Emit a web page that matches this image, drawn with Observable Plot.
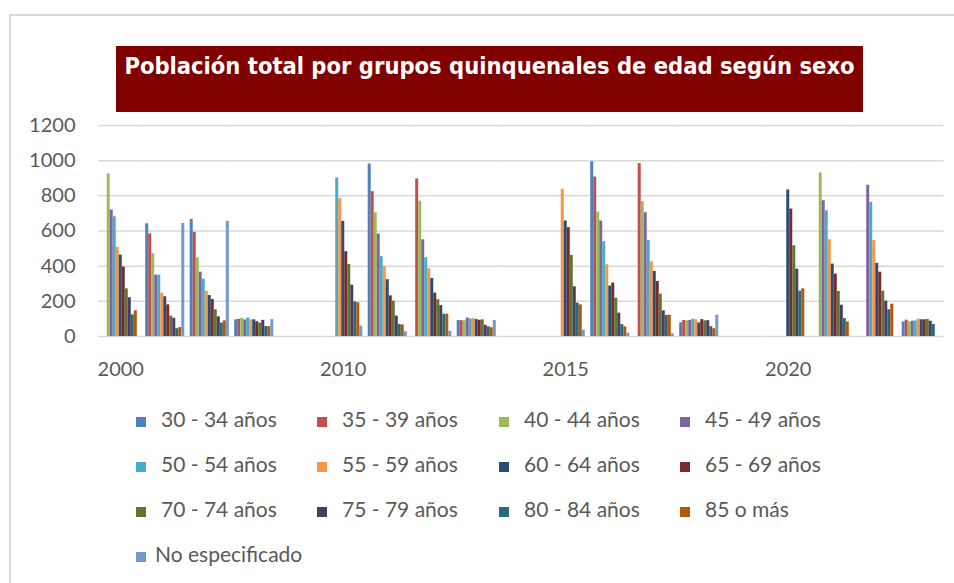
<!DOCTYPE html>
<html>
<head>
<meta charset="utf-8">
<script src="https://cdn.jsdelivr.net/npm/d3@7"></script>
<script src="https://cdn.jsdelivr.net/npm/@observablehq/plot@0.6"></script>
<style>
  html, body { margin: 0; padding: 0; background: #fff; width: 954px; height: 583px; overflow: hidden; }
  #wrap { position: relative; width: 954px; height: 583px; }
  #chart { position: absolute; left: 0; top: 109px; }
  #overlay { position: absolute; left: 0; top: 0; }
</style>
</head>
<body>
<div id="wrap">
  <div id="chart"></div>
  <svg id="overlay" width="954" height="583"></svg>
</div>
<script>
const title = "Población total por grupos quinquenales de edad según sexo";
const years = ["2000", "2010", "2015", "2020"];
const series = ["30 - 34 años", "35 - 39 años", "40 - 44 años", "45 - 49 años",
  "50 - 54 años", "55 - 59 años", "60 - 64 años", "65 - 69 años",
  "70 - 74 años", "75 - 79 años", "80 - 84 años", "85 o más", "No especificado"];
const colors = ["#4F81BD", "#C0504D", "#9BBB59", "#8064A2", "#4BACC6", "#F79646",
  "#2C4D75", "#772C2A", "#5F7530", "#4D3B62", "#276A7C", "#B65708", "#729ACA"];
const yTicks = [0, 200, 400, 600, 800, 1000, 1200];

// Four groups of bars per year: total, hombres, mujeres, índice de masculinidad
const total2000   = [null, null, 924, 719, 681, 507, 463, 395, 271, 220, 123, 146, null];
const hombres2000 = [641, 584, 471, 349, 349, 247, 226, 180, 116, 104, 44, 51, 643];
const mujeres2000 = [666, 592, 448, 366, 326, 258, 233, 211, 152, 112, 76, 89, 655];
const indice2000  = [95, 98, 103, 94, 105, 95, 95, 84, 76, 92, 57, 56, 96];

const total2010   = [null, null, null, null, 901, 784, 655, 482, 410, 292, 197, 192, 59];
const hombres2010 = [981, 824, 704, 583, 454, 398, 323, 231, 201, 116, 68, 66, 27];
const mujeres2010 = [null, 896, 770, 550, 448, 385, 330, 247, 209, 176, 127, 127, 30];
const indice2010  = [91, 90, 89, 105, 100, 102, 96, 92, 95, 64, 55, 50, 91];

const total2015   = [null, null, null, null, null, 837, 657, 619, 461, 283, 190, 180, 36];
const hombres2015 = [994, 907, 708, 657, 539, 408, 287, 304, 218, 133, 68, 55, 19];
const mujeres2015 = [null, 983, 767, 704, 546, 425, 370, 313, 241, 146, 120, 121, 15];
const indice2015  = [78, 91, 90, 91, 98, 95, 77, 96, 89, 90, 56, 44, 121];

const total2020   = [null, null, null, null, null, null, 833, 725, 516, 383, 258, 271, null];
const hombres2020 = [null, null, 930, 772, 715, 550, 412, 355, 256, 178, 102, 83, null];
const mujeres2020 = [null, null, null, 860, 763, 545, 416, 366, 258, 201, 152, 184, null];
const indice2020  = [83, 93, 83, 87, 89, 99, 95, 95, 97, 87, 68, null, null];

const groupsByYear = {
  "2000": [total2000, hombres2000, mujeres2000, indice2000],
  "2010": [total2010, hombres2010, mujeres2010, indice2010],
  "2015": [total2015, hombres2015, mujeres2015, indice2015],
  "2020": [total2020, hombres2020, mujeres2020, indice2020]
};

// category slots: 4 groups per year plus an empty slot between years
const cats = [];
const rows = [];
years.forEach((yr, yi) => {
  groupsByYear[yr].forEach((vals, gi) => {
    const key = yr + "|" + gi;
    cats.push(key);
    vals.forEach((v, si) => { if (v != null) rows.push({cat: key, serie: series[si], value: v}); });
  });
  if (yi < years.length - 1) cats.push(yr + "|blank");
});
// gridlines drawn in every category slot (keeps every facet non-empty)
const gridRows = cats.flatMap(c => yTicks.map(t => ({cat: c, tick: t})));

const W = 954;
const plot = Plot.plot({
  width: W,
  height: 16 + 211 + 50,
  marginTop: 16,
  marginBottom: 50,
  marginLeft: 98,
  marginRight: W - 98 - 845.5,
  style: {fontFamily: "Lato, sans-serif", fontSize: "20px", color: "#595959", background: "transparent", overflow: "visible"},
  fx: {domain: cats, paddingInner: 0, paddingOuter: 0, round: false, axis: "bottom", label: null, tickSize: 0, tickPadding: 25,
       tickFormat: k => k.endsWith("|0") ? k.split("|")[0] : ""},
  x: {domain: series, paddingInner: 0, paddingOuter: 0.9, round: false, axis: null},
  y: {domain: [0, 1200], ticks: yTicks, tickSize: 0, tickPadding: 23, label: null, tickFormat: d => String(d)},
  color: {domain: series, range: colors},
  marks: [
    Plot.ruleY(gridRows, {fx: "cat", y: "tick", stroke: "#d9d9d9", strokeWidth: 1.5}),
    Plot.barY(rows, {fx: "cat", x: "serie", y: "value", fill: "serie"})
  ]
});
document.getElementById("chart").appendChild(plot);

// overlay: outer border, title box, legend
const svg = d3.select("#overlay");
svg.append("path").attr("d", "M10,600 V15 H960").attr("fill", "none").attr("stroke", "#d9d9d9").attr("stroke-width", 2);
svg.append("rect").attr("x", 116).attr("y", 46).attr("width", 747).attr("height", 66).attr("fill", "#800000");
svg.append("text").attr("x", 489.5).attr("y", 74).attr("text-anchor", "middle")
  .attr("fill", "#ffffff").attr("font-family", "'DejaVu Sans Condensed', 'DejaVu Sans', sans-serif")
  .attr("font-weight", "bold").attr("font-size", 23.5).text(title);

const colX = [136, 317, 499, 680];
const rowY = [427, 472, 517, 562];
series.forEach((s, i) => {
  const c = i % 4, r = Math.floor(i / 4);
  const g = svg.append("g");
  g.append("rect").attr("x", colX[c]).attr("y", rowY[r] - 10).attr("width", 10).attr("height", 10).attr("fill", colors[i]);
  g.append("text").attr("x", colX[c] + (i === 12 ? 19 : 25)).attr("y", rowY[r])
    .attr("font-family", "Lato, sans-serif").attr("font-size", 21).attr("fill", "#595959").text(s);
});
</script>
</body>
</html>
